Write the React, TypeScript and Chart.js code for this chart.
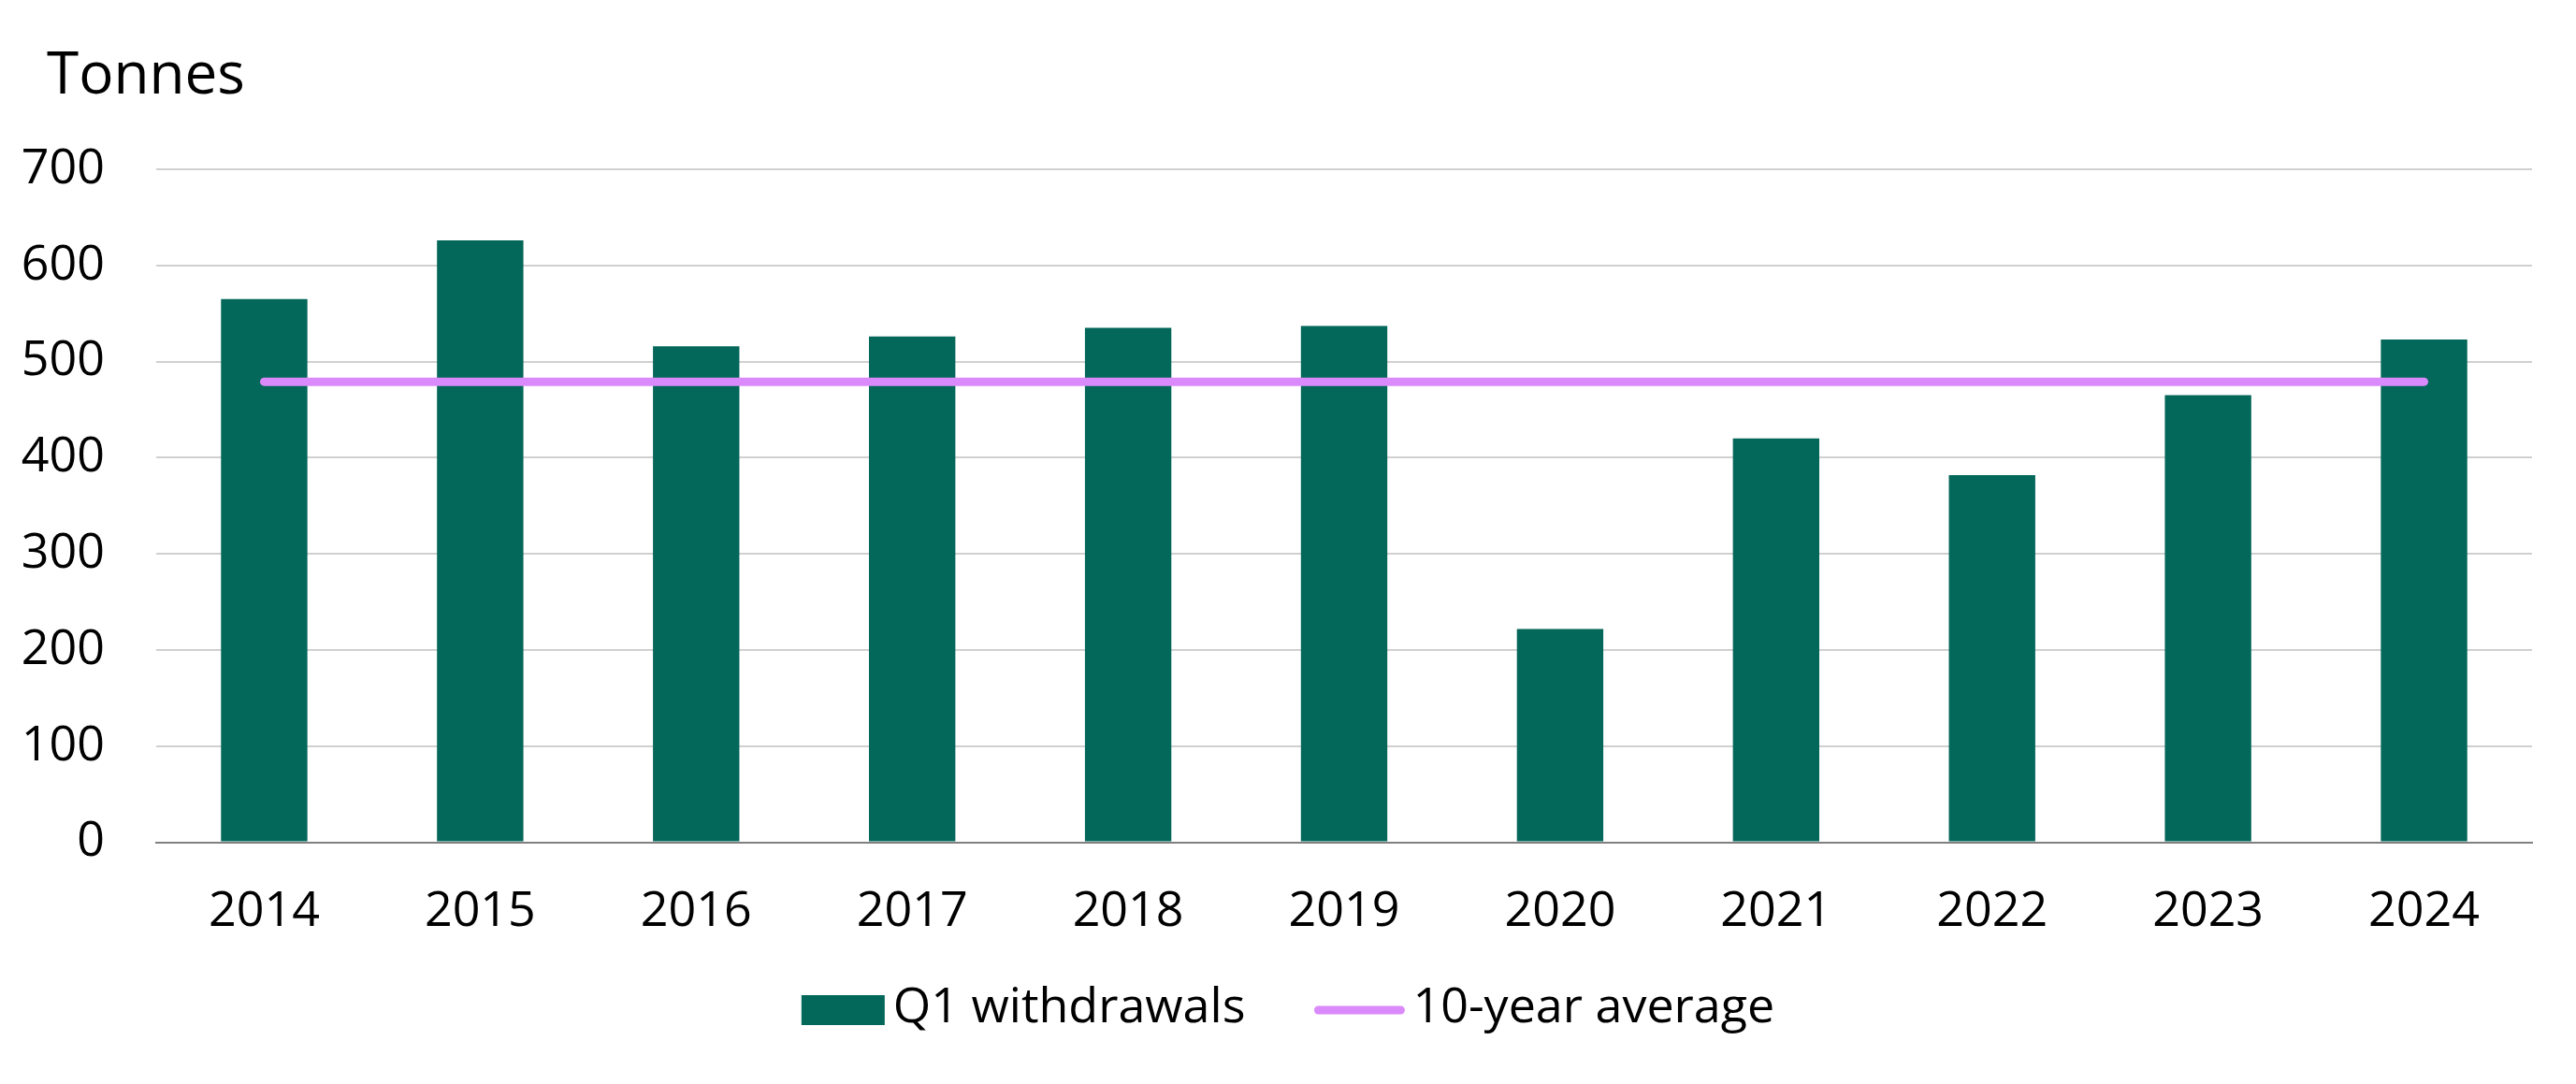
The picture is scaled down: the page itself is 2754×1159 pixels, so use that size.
import React, { useEffect, useRef } from 'react';
import { Chart, registerables } from 'chart.js';
import type { Plugin } from 'chart.js';

Chart.register(...registerables);

const years = ['2014', '2015', '2016', '2017', '2018', '2019', '2020', '2021', '2022', '2023', '2024'];
const withdrawals = [565, 626, 516, 526, 535, 537, 222, 420, 382, 465, 523];
const tenYearAverage = [479, 479, 479, 479, 479, 479, 479, 479, 479, 479, 479];
const yTicks = [0, 100, 200, 300, 400, 500, 600, 700];

const GREEN = '#03675A';
const PURPLE = '#DA8AFA';
const FONT = '"Open Sans", "Noto Sans", sans-serif';

// unit label top-left + legend under the axis, drawn by hand to match the spacing
const extrasPlugin: Plugin<'bar'> = {
    id: 'extras',
    afterDraw(chart) {
        const { ctx, width } = chart;
        ctx.save();
        ctx.fillStyle = '#000';
        ctx.font = `62px ${FONT}`;
        ctx.textBaseline = 'alphabetic';
        ctx.textAlign = 'left';
        ctx.fillText('Tonnes', 50, 100);

        ctx.font = `52px ${FONT}`;
        const barLabel = chart.data.datasets[0].label as string;
        const lineLabel = chart.data.datasets[1].label as string;
        const w1 = ctx.measureText(barLabel).width;
        const w2 = ctx.measureText(lineLabel).width;
        const boxW = 89, boxH = 32, lineW = 96, gap = 9, itemGap = 74;
        const total = boxW + gap + w1 + itemGap + lineW + gap + w2;
        const cy = 1080;
        let x = (width - total) / 2;

        ctx.fillStyle = GREEN;
        ctx.fillRect(x, cy - boxH / 2, boxW, boxH);
        x += boxW + gap;
        ctx.fillStyle = '#000';
        ctx.textBaseline = 'middle';
        ctx.fillText(barLabel, x, cy - 2);
        x += w1 + itemGap;

        ctx.strokeStyle = PURPLE;
        ctx.lineWidth = 9;
        ctx.lineCap = 'round';
        ctx.beginPath();
        ctx.moveTo(x + 4, cy);
        ctx.lineTo(x + lineW - 4, cy);
        ctx.stroke();
        x += lineW + gap;
        ctx.fillText(lineLabel, x, cy - 2);
        ctx.restore();
    },
};

export default function App() {
    const canvasRef = useRef<HTMLCanvasElement | null>(null);

    useEffect(() => {
        const canvas = canvasRef.current;
        if (!canvas) return;

        Chart.defaults.font.family = FONT;
        Chart.defaults.color = '#000';

        const chart = new Chart(canvas, {
            type: 'bar',
            data: {
                labels: years,
                datasets: [
                    {
                        type: 'bar',
                        label: 'Q1 withdrawals',
                        data: withdrawals,
                        backgroundColor: GREEN,
                        categoryPercentage: 1,
                        barPercentage: 0.4,
                        order: 1,
                    },
                    {
                        type: 'line' as any,
                        label: '10-year average',
                        data: tenYearAverage,
                        borderColor: PURPLE,
                        borderWidth: 9,
                        borderCapStyle: 'round',
                        pointRadius: 0,
                        fill: false,
                        order: -1,
                    } as any,
                ],
            },
            options: {
                animation: false,
                responsive: true,
                maintainAspectRatio: false,
                layout: { padding: { top: 181, right: 47, bottom: 110, left: 0 } },
                plugins: {
                    legend: { display: false },
                    tooltip: { enabled: false },
                    title: { display: false },
                },
                scales: {
                    x: {
                        grid: { display: false, drawTicks: false },
                        border: { display: true, color: '#808080', width: 2 },
                        ticks: { font: { size: 52 }, padding: 43, color: '#000' },
                    },
                    y: {
                        min: 0,
                        max: 700,
                        afterBuildTicks: (scale) => {
                            scale.ticks = yTicks.map((v) => ({ value: v }));
                        },
                        afterFit: (scale) => {
                            scale.width = 167;
                        },
                        grid: { color: '#D0D0D0', lineWidth: 2, drawTicks: false },
                        border: { display: false },
                        ticks: { font: { size: 52 }, padding: 55, color: '#000' },
                    },
                },
            },
            plugins: [extrasPlugin],
        });

        return () => {
            chart.destroy();
        };
    }, []);

    return (
        <div style={{ position: 'absolute', left: 0, top: 0, width: 2754, height: 1159, background: '#fff' }}>
            <canvas ref={canvasRef} />
        </div>
    );
}
